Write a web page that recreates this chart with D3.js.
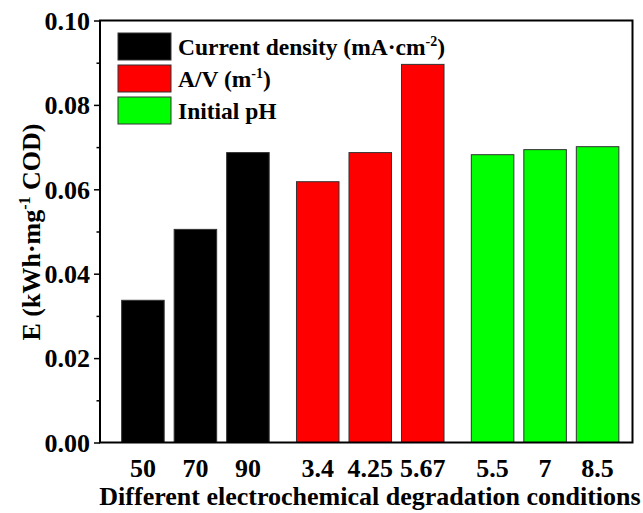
<!DOCTYPE html>
<html>
<head>
<meta charset="utf-8">
<script src="https://cdn.jsdelivr.net/npm/d3@7"></script>
<style>
  body { margin: 0; background: #fff; }
</style>
</head>
<body>
<script>
// data
var groups = ["Current density", "A/V", "Initial pH"];
var groupColors = ["#000000", "#ff0000", "#00ff00"];
var tickLabels = [["50", "70", "90"], ["3.4", "4.25", "5.67"], ["5.5", "7", "8.5"]];
var energyValues = [[0.0337, 0.0505, 0.0687], [0.0618, 0.0687, 0.0896], [0.0682, 0.0694, 0.0701]];
var yTicks = [0, 0.02, 0.04, 0.06, 0.08, 0.10];
var yMinorTicks = [0.01, 0.03, 0.05, 0.07, 0.09];

var FONT = "'Liberation Serif', 'Times New Roman', Times, 'DejaVu Serif', serif";

var width = 643, height = 513;
var margin = {left: 100, right: 10.5, top: 20.5, bottom: 70.5};
var plotW = width - margin.left - margin.right,
    plotH = height - margin.top - margin.bottom;

var svg = d3.select("body").append("svg")
    .attr("width", width)
    .attr("height", height)
    .attr("font-family", FONT)
    .attr("font-weight", "bold");

var g = svg.append("g")
    .attr("transform", "translate(" + margin.left + "," + margin.top + ")");

var y = d3.scaleLinear().domain([0, 0.10]).range([plotH, 0]);

var xGroup = d3.scaleBand()
    .domain(d3.range(groups.length))
    .range([8, plotW])
    .padding(0);

var xBar = d3.scaleBand()
    .domain(d3.range(3))
    .range([0, xGroup.bandwidth()])
    .paddingInner(0.19)
    .paddingOuter(0.26);

// bars
var grp = g.selectAll(".grp")
    .data(energyValues)
    .enter().append("g")
    .attr("class", "grp")
    .attr("transform", function(d, i) { return "translate(" + xGroup(i) + ",0)"; });

grp.selectAll("rect")
    .data(function(d, i) { return d.map(function(v) { return {v: v, gi: i}; }); })
    .enter().append("rect")
    .attr("x", function(d, j) { return xBar(j); })
    .attr("y", function(d) { return y(d.v); })
    .attr("width", xBar.bandwidth())
    .attr("height", function(d) { return plotH - y(d.v); })
    .style("fill", function(d) { return groupColors[d.gi]; })
    .style("stroke", "#333")
    .style("stroke-width", 1);

// x tick labels
grp.selectAll(".xlab")
    .data(function(d, i) { return tickLabels[i]; })
    .enter().append("text")
    .attr("class", "xlab")
    .attr("x", function(d, j) { return xBar(j) + xBar.bandwidth() / 2; })
    .attr("y", plotH + 34)
    .attr("text-anchor", "middle")
    .style("font-size", "26px")
    .text(function(d) { return d; });

// y axis
var yAxis = d3.axisLeft(y)
    .tickValues(yTicks)
    .tickFormat(d3.format(".2f"))
    .tickSize(6)
    .tickPadding(4);

var ya = g.append("g").call(yAxis).attr("font-family", FONT);
ya.select(".domain").remove();
ya.selectAll("line").style("stroke", "#000").style("stroke-width", 1.5);
ya.selectAll("text")
    .style("font-size", "26px")
    .style("fill", "#000")
    .attr("dy", "0.34em");

var yMinor = d3.axisLeft(y).tickValues(yMinorTicks).tickSize(3.5).tickFormat("");
var ym = g.append("g").call(yMinor);
ym.select(".domain").remove();
ym.selectAll("line").style("stroke", "#000").style("stroke-width", 1.5);

// frame
g.append("rect")
    .attr("x", 0).attr("y", 0)
    .attr("width", plotW).attr("height", plotH)
    .style("fill", "none")
    .style("stroke", "#000")
    .style("stroke-width", 2);

// axis titles
svg.append("text")
    .attr("x", 370)
    .attr("y", 505)
    .attr("text-anchor", "middle")
    .style("font-size", "26px")
    .text("Different electrochemical degradation conditions");

var yt = svg.append("text")
    .attr("transform", "translate(40,232) rotate(-90)")
    .attr("text-anchor", "middle")
    .style("font-size", "26px");
yt.append("tspan").text("E (kWh\u00b7mg");
yt.append("tspan").attr("dy", -10).style("font-size", "16px").text("-1");
yt.append("tspan").attr("dy", 10).text(" COD)");

// legend
var legendText = [
  [["Current density (mA\u00b7cm", 0], ["-2", 1], [")", 0]],
  [["A/V (m", 0], ["-1", 1], [")", 0]],
  [["Initial pH", 0]]
];

var leg = svg.append("g").attr("transform", "translate(118,33)");
var item = leg.selectAll(".item")
    .data(groups)
    .enter().append("g")
    .attr("class", "item")
    .attr("transform", function(d, i) { return "translate(0," + (i * 32) + ")"; });

item.append("rect")
    .attr("width", 53).attr("height", 27)
    .style("fill", function(d, i) { return groupColors[i]; })
    .style("stroke", "#333")
    .style("stroke-width", 1);

item.append("text")
    .attr("x", 60)
    .attr("y", 22)
    .style("font-size", "23.5px")
    .each(function(d, i) {
        var t = d3.select(this);
        var prevSup = 0;
        legendText[i].forEach(function(p) {
            var sp = t.append("tspan").text(p[0]);
            if (p[1]) { sp.attr("dy", -9).style("font-size", "14px"); prevSup = 1; }
            else if (prevSup) { sp.attr("dy", 9); prevSup = 0; }
        });
    });
</script>
</body>
</html>
